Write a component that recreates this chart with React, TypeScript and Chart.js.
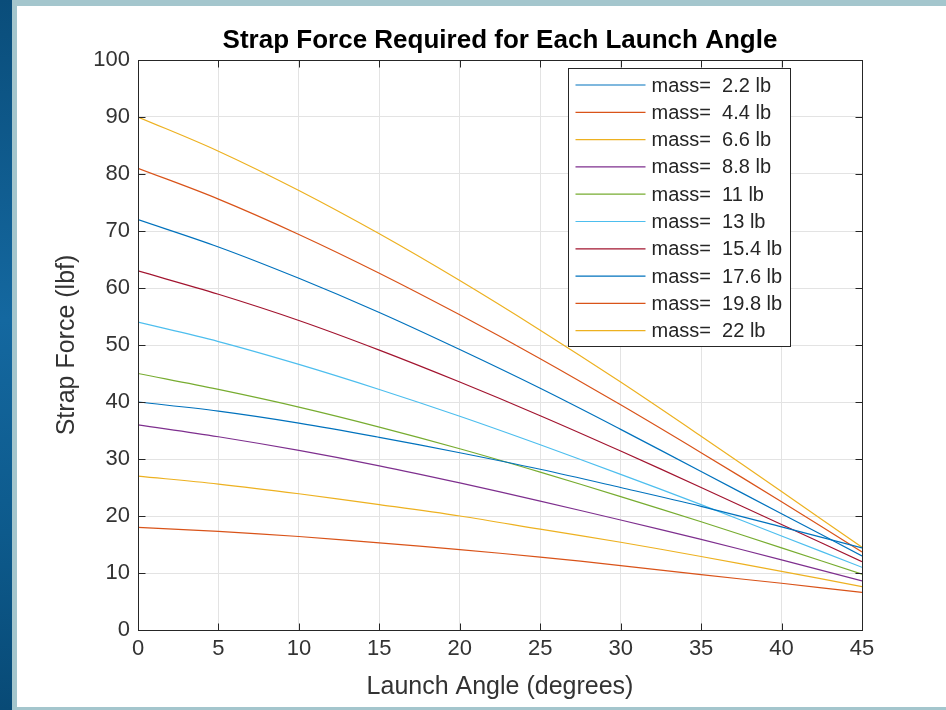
import React, { useEffect, useRef } from "react";
import { Chart, registerables } from "chart.js";

Chart.register(...registerables);

// ---- data ----
const angles = [0, 5, 10, 15, 20, 25, 30, 35, 40, 45];
const massLabels = ["2.2", "4.4", "6.6", "8.8", "11", "13", "15.4", "17.6", "19.8", "22"];

const force_m2_2 = [40.0, 38.4, 36.3, 33.8, 31.1, 28.2, 25.0, 21.7, 18.1, 14.4];
const force_m4_4 = [18.0, 17.3, 16.4, 15.3, 14.1, 12.8, 11.3, 9.7, 8.2, 6.6];
const force_m6_6 = [27.0, 25.6, 23.9, 22.0, 20.0, 17.7, 15.4, 12.9, 10.3, 7.6];
const force_m8_8 = [36.0, 33.9, 31.5, 28.8, 25.8, 22.6, 19.3, 15.9, 12.3, 8.6];
const force_m11 = [45.0, 42.2, 39.1, 35.6, 31.8, 27.7, 23.4, 19.0, 14.4, 9.8];
const force_m13 = [54.0, 50.6, 46.6, 42.2, 37.5, 32.5, 27.3, 22.0, 16.5, 11.0];
const force_m15_4 = [63.0, 58.9, 54.3, 49.1, 43.5, 37.6, 31.4, 25.0, 18.5, 12.0];
const force_m17_6 = [72.0, 67.2, 61.7, 55.7, 49.2, 42.4, 35.2, 27.8, 20.4, 13.0];
const force_m19_8 = [81.0, 75.6, 69.4, 62.6, 55.3, 47.6, 39.5, 31.1, 22.5, 13.7];
const force_m22 = [90.0, 84.0, 77.1, 69.5, 61.3, 52.6, 43.5, 34.0, 24.3, 14.5];

const seriesValues = [
  force_m2_2, force_m4_4, force_m6_6, force_m8_8, force_m11,
  force_m13, force_m15_4, force_m17_6, force_m19_8, force_m22,
];

const seriesColors = [
  "#0072BD", "#D95319", "#EDB120", "#7E2F8E", "#77AC30",
  "#4DBEEE", "#A2142F", "#0072BD", "#D95319", "#EDB120",
];

const xTickValues = [0, 5, 10, 15, 20, 25, 30, 35, 40, 45];
const yTickValues = [0, 10, 20, 30, 40, 50, 60, 70, 80, 90, 100];

const titleText = "Strap Force Required for Each Launch Angle";
const xTitle = "Launch Angle (degrees)";
const yTitle = "Strap Force (lbf)";

const FONT = "'Liberation Sans', Arial, Helvetica, sans-serif";
const AXIS_COLOR = "#262626";
const TICK_COLOR = "#333333";

const matlabAxesPlugin = {
  id: "matlabAxes",
  afterDatasetsDraw(chart: any) {
    const { ctx, chartArea: a, scales } = chart;
    ctx.save();
    ctx.strokeStyle = AXIS_COLOR;
    ctx.lineWidth = 1;
    const L = 7;
    const left = Math.round(a.left) + 0.5;
    const right = Math.round(a.right) + 0.5;
    const top = Math.round(a.top) + 0.5;
    const bottom = Math.round(a.bottom) + 0.5;
    ctx.beginPath();
    for (const t of xTickValues) {
      const x = Math.round(scales.x.getPixelForValue(t)) + 0.5;
      ctx.moveTo(x, bottom);
      ctx.lineTo(x, bottom - L);
      ctx.moveTo(x, top);
      ctx.lineTo(x, top + L);
    }
    for (const t of yTickValues) {
      const y = Math.round(scales.y.getPixelForValue(t)) + 0.5;
      ctx.moveTo(left, y);
      ctx.lineTo(left + L, y);
      ctx.moveTo(right, y);
      ctx.lineTo(right - L, y);
    }
    ctx.stroke();
    ctx.strokeRect(left, top, right - left, bottom - top);

    // title centred over the axes
    ctx.fillStyle = "#000000";
    ctx.font = `bold 26px ${FONT}`;
    ctx.textAlign = "center";
    ctx.textBaseline = "middle";
    ctx.fillText(titleText, (a.left + a.right) / 2, a.top - 19);

    // legend (northeast, inside the axes)
    const lx = Math.round(a.left + 430) + 0.5;
    const ly = Math.round(a.top + 8) + 0.5;
    const lw = 222;
    const lh = 278;
    ctx.fillStyle = "#ffffff";
    ctx.fillRect(lx, ly, lw, lh);
    ctx.strokeStyle = AXIS_COLOR;
    ctx.lineWidth = 1;
    ctx.strokeRect(lx, ly, lw, lh);
    const rowH = 27.3;
    ctx.font = `20px ${FONT}`;
    ctx.textBaseline = "middle";
    ctx.textAlign = "left";
    chart.data.datasets.forEach((ds: any, i: number) => {
      const cy = ly + 16.5 + i * rowH;
      ctx.strokeStyle = ds.borderColor;
      ctx.lineWidth = 1.2;
      ctx.beginPath();
      ctx.moveTo(lx + 7, cy);
      ctx.lineTo(lx + 77, cy);
      ctx.stroke();
      ctx.fillStyle = AXIS_COLOR;
      ctx.fillText(ds.label, lx + 83, cy + 1);
    });
    ctx.restore();
  },
};

export default function App() {
  const canvasRef = useRef<HTMLCanvasElement | null>(null);

  useEffect(() => {
    const canvas = canvasRef.current;
    if (!canvas) return;
    const datasets = seriesValues.map((vals, i) => ({
      label: `mass=  ${massLabels[i]} lb`,
      data: angles.map((ang, j) => ({ x: ang, y: vals[j] })),
      borderColor: seriesColors[i],
      backgroundColor: seriesColors[i],
      borderWidth: 1.2,
      pointRadius: 0,
      fill: false,
      tension: 0.35,
    }));

    const chart = new Chart(canvas, {
      type: "line",
      data: { datasets },
      plugins: [matlabAxesPlugin],
      options: {
        responsive: false,
        animation: false,
        devicePixelRatio: 1,
        layout: { padding: { left: 0, right: 84, top: 60, bottom: 0 } },
        plugins: {
          legend: { display: false },
          tooltip: { enabled: false },
          title: { display: false },
        },
        scales: {
          x: {
            type: "linear",
            min: 0,
            max: 45,
            afterBuildTicks: (scale: any) => {
              scale.ticks = xTickValues.map((v) => ({ value: v }));
            },
            afterFit: (scale: any) => {
              scale.height = 80;
            },
            grid: { color: "#e3e3e3", drawTicks: false, lineWidth: 1 },
            border: { display: false },
            ticks: {
              color: TICK_COLOR,
              font: { family: FONT, size: 22 },
              padding: 6,
              maxRotation: 0,
            },
            title: {
              display: true,
              text: xTitle,
              color: TICK_COLOR,
              font: { family: FONT, size: 25 },
              padding: { top: 0, bottom: 8 },
            },
          },
          y: {
            type: "linear",
            min: 0,
            max: 100,
            afterBuildTicks: (scale: any) => {
              scale.ticks = yTickValues.map((v) => ({ value: v }));
            },
            afterFit: (scale: any) => {
              scale.width = 138;
            },
            grid: { color: "#e3e3e3", drawTicks: false, lineWidth: 1 },
            border: { display: false },
            ticks: {
              color: TICK_COLOR,
              font: { family: FONT, size: 22 },
              padding: 8,
            },
            title: {
              display: true,
              text: yTitle,
              color: TICK_COLOR,
              font: { family: FONT, size: 25 },
              padding: { top: 52, bottom: 0 },
            },
          },
        },
      },
    });
    return () => chart.destroy();
  }, []);

  return (
    <div
      style={{
        position: "fixed",
        left: 0,
        top: 0,
        width: 946,
        height: 710,
        background: "linear-gradient(180deg, #0a4d7a 0%, #1468a0 45%, #0d5a8c 75%, #084a76 100%)",
        overflow: "hidden",
      }}
    >
      <div
        style={{
          position: "absolute",
          left: 12,
          top: 0,
          width: 934,
          height: 710,
          background: "#a4c6cd",
        }}
      />
      <div
        style={{
          position: "absolute",
          left: 17,
          top: 6,
          width: 929,
          height: 701,
          background: "#ffffff",
        }}
      />
      <canvas
        ref={canvasRef}
        width={946}
        height={710}
        style={{ position: "absolute", left: 0, top: 0, width: 946, height: 710 }}
      />
    </div>
  );
}
